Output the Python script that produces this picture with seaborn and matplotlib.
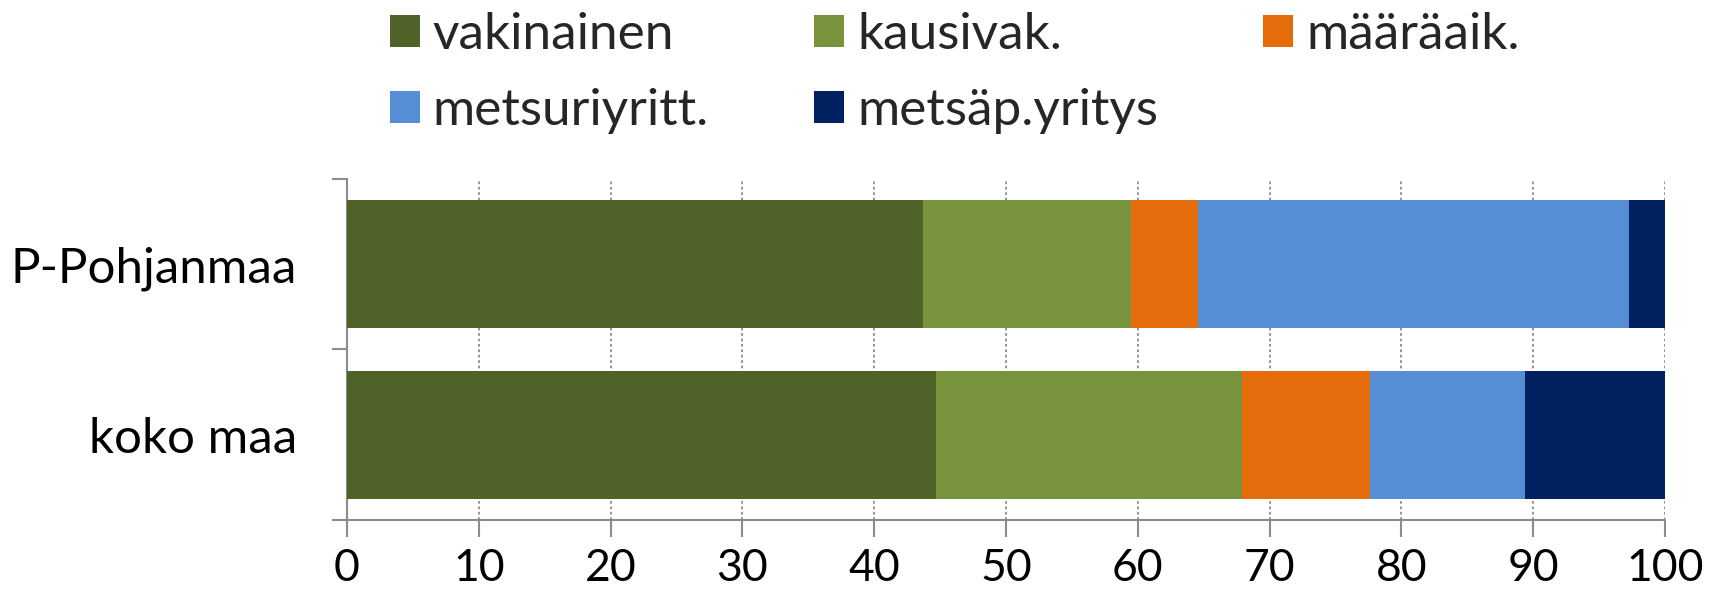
import matplotlib
matplotlib.use("Agg")
import matplotlib.pyplot as plt
import seaborn as sns
import numpy as np
import pandas as pd
from matplotlib.patches import Patch

categories = ["P-Pohjanmaa", "koko maa"]
series_names = ["vakinainen", "kausivak.", "määräaik.", "metsuriyritt.", "metsäp.yritys"]
vakinainen = [43.7, 44.7]
kausivak = [15.8, 23.2]
maaraaik = [5.1, 9.7]
metsuriyritt = [32.7, 11.8]
metsapyritys = [2.7, 10.6]
colors = ["#4F6228", "#77933C", "#E46C0A", "#558ED5", "#002060"]
xticks = list(range(0, 101, 10))

sns.set_style("white")
plt.rcParams['font.family'] = ['Lato', 'DejaVu Sans']

values = [vakinainen, kausivak, maaraaik, metsuriyritt, metsapyritys]
cum = np.cumsum(np.array(values), axis=0)

fig = plt.figure(figsize=(17.21, 6.10), dpi=100)
ax = fig.add_axes([347/1721, 90/610, (1665-347)/1721, (520-179)/610])

for i in range(len(series_names) - 1, -1, -1):
    df = pd.DataFrame({"cat": categories, "val": cum[i]})
    sns.barplot(data=df, x="val", y="cat", color=colors[i], orient="h",
                width=0.75, ax=ax, saturation=1, edgecolor="none", linewidth=0, zorder=3)

ax.set_xlim(0, 100)
ax.set_ylim(1.5, -0.5)
ax.set_xticks(xticks)
ax.set_xticklabels([str(t) for t in xticks])
ax.set_xlabel("")
ax.set_ylabel("")

ax.xaxis.grid(True, linestyle=(0, (1.5, 1.5)), color="#8c8c8c", linewidth=1.3, zorder=0)
ax.yaxis.grid(False)
ax.set_axisbelow(True)

for s in ["top", "right"]:
    ax.spines[s].set_visible(False)
for s in ["left", "bottom"]:
    ax.spines[s].set_color("#8c8c8c")
    ax.spines[s].set_linewidth(1.5)

ax.tick_params(axis="x", which="major", length=12, width=1.5, color="#8c8c8c",
               direction="out", labelsize=32, pad=8, labelcolor="black", bottom=True)
ax.set_yticks([0, 1])
ax.set_yticklabels(categories)
ax.tick_params(axis="y", which="major", length=0, labelsize=35.5, pad=36, labelcolor="black")
ax.set_yticks([-0.5, 0.5, 1.5], minor=True)
ax.tick_params(axis="y", which="minor", length=11, width=1.5, color="#8c8c8c", left=True)

handles = [Patch(facecolor=c, edgecolor="none") for c in colors]
order = [0, 3, 1, 4, 2]
fig.legend([handles[i] for i in order], [series_names[i] for i in order],
           ncol=3, loc="upper left", bbox_to_anchor=(390/1721, 1 - 12/610),
           frameon=False, fontsize=37, handlelength=0.58, handleheight=0.58,
           handletextpad=0.25, columnspacing=2.05, labelspacing=0.58, borderpad=0,
           borderaxespad=0)

fig.savefig("out.png", dpi=100)
